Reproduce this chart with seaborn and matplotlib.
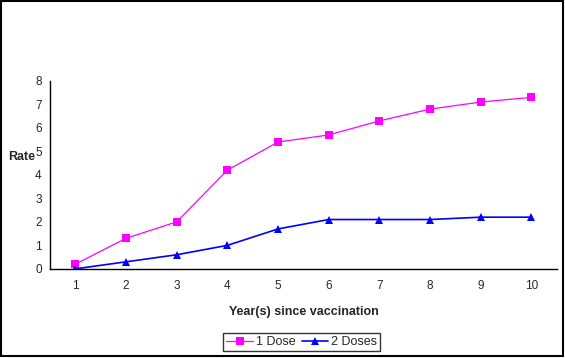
import numpy as np
import pandas as pd
import matplotlib
matplotlib.use("Agg")
import matplotlib.pyplot as plt
import seaborn as sns
from matplotlib.lines import Line2D

# --- DATA
years = [1, 2, 3, 4, 5, 6, 7, 8, 9, 10]
one_dose = [0.2, 1.3, 2.0, 4.2, 5.4, 5.7, 6.3, 6.8, 7.1, 7.3]
two_doses = [0.0, 0.3, 0.6, 1.0, 1.7, 2.1, 2.1, 2.1, 2.2, 2.2]
series_names = ['1 Dose', '2 Doses']
colors = ['#FF00FF', '#0000FF']

df = pd.DataFrame({
    'year': years * 2,
    'rate': one_dose + two_doses,
    'series': [series_names[0]] * len(years) + [series_names[1]] * len(years),
})

# --- PLOT
sns.set_style("white")
plt.rcParams['font.family'] = ['Liberation Sans', 'DejaVu Sans']
plt.rcParams['font.size'] = 9

fig = plt.figure(figsize=(5.65, 3.58), dpi=100)
ax = fig.add_axes([0.0885, 0.249, 0.897, 0.525])

ax = sns.lineplot(data=df, x='year', y='rate', hue='series', style='series',
                  hue_order=series_names, style_order=series_names,
                  palette=colors, markers=['s', '^'],
                  dashes=False, markersize=6, markeredgewidth=0,
                  ax=ax, legend=False)
for line, lw in zip(ax.lines, [0.9, 1.2]):
    line.set_linewidth(lw)

ax.set_xlim(0.5, 10.5)
ax.set_ylim(0, 8)
ax.set_xticks(years)
ax.set_xticklabels([str(y) for y in years])
ax.set_xticks(np.arange(0.5, 11, 1), minor=True)
ax.tick_params(axis='x', which='major', length=0, pad=8, labelsize=8.5)
ax.tick_params(axis='x', which='minor', length=4, width=1, color='black', direction='out')
ax.set_yticks(range(0, 9))
ax.tick_params(axis='y', length=4, width=1, color='black', direction='out', pad=2, labelsize=8.5)
ax.grid(False)

for side in ['top', 'right']:
    ax.spines[side].set_visible(False)
for side in ['left', 'bottom']:
    ax.spines[side].set_color('black')
    ax.spines[side].set_linewidth(1)

ax.set_xlabel('Year(s) since vaccination', fontweight='bold', fontsize=9, labelpad=10)
ax.set_ylabel('Rate', fontweight='bold', fontsize=9, rotation=0, labelpad=0, va='center')
ax.yaxis.set_label_coords(-0.056, 0.595)

handles = [Line2D([], [], color=colors[0], marker='s', lw=0.9, markersize=6, markeredgewidth=0),
           Line2D([], [], color=colors[1], marker='^', lw=1.2, markersize=6, markeredgewidth=0)]
leg = fig.legend(handles, series_names, loc='center', bbox_to_anchor=(0.534, 0.045),
                 ncol=2, frameon=True, fancybox=False, fontsize=9,
                 handlelength=2.1, handletextpad=0.25, columnspacing=0.5,
                 borderpad=0.25, borderaxespad=0, edgecolor='black')
leg.get_frame().set_linewidth(1)

# figure border
fig.patches.append(plt.Rectangle((0.001, 0.006), 0.995, 0.992, transform=fig.transFigure,
                                 fill=False, edgecolor='black', linewidth=1.5))

plt.savefig("out.png", dpi=100)
